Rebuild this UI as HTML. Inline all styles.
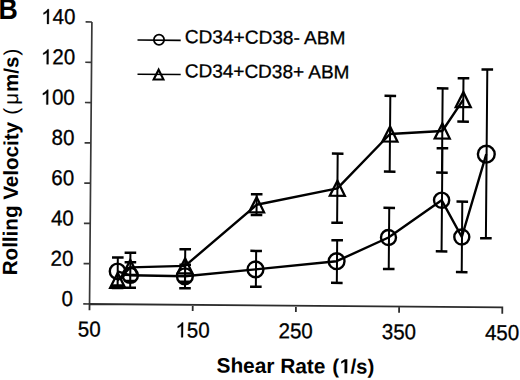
<!DOCTYPE html>
<html><head><meta charset="utf-8"><style>
html,body{margin:0;padding:0;background:#fff;width:520px;height:380px;overflow:hidden}
svg{display:block}
</style></head><body><svg width="520" height="380" viewBox="0 0 520 380"><g transform="rotate(0.48 300.0 190.0)"><path d="M118.39 259.02V287.02M131.02 263.62V289.22M185.83 265.66V289.26M256.67 251.27V287.17M337.60 239.99V282.59M389.39 207.15V268.25M442.08 147.01V250.21M462.39 200.24V270.74M486.29 67.94V236.64M118.46 277.52V289.52M130.95 254.22V282.42M185.74 250.26V282.66M256.73 194.66V215.36M337.38 153.29V222.39M389.53 95.15V170.85M441.80 87.21V171.41M462.54 76.94V120.23" stroke="#000" stroke-width="2.0" fill="none"/><path d="M112.59 259.02H124.19M112.59 287.02H124.19M125.22 263.62H136.82M125.22 289.22H136.82M180.03 265.66H191.63M180.03 289.26H191.63M250.87 251.27H262.47M250.87 287.17H262.47M331.80 239.99H343.40M331.80 282.59H343.40M383.59 207.15H395.19M383.59 268.25H395.19M436.28 147.01H447.88M436.28 250.21H447.88M456.59 200.24H468.19M456.59 270.74H468.19M480.49 67.94H492.09M480.49 236.64H492.09M112.66 289.52H124.26M125.15 254.22H136.75M125.15 282.42H136.75M179.94 250.26H191.54M179.94 282.66H191.54M250.93 194.66H262.53M250.93 215.36H262.53M331.58 153.29H343.18M331.58 222.39H343.18M383.73 95.15H395.33M383.73 170.85H395.33M436.00 87.21H447.60M436.00 171.41H447.60M456.74 76.94H468.34M456.74 120.23H468.34" stroke="#000" stroke-width="2.5" fill="none"/><polyline points="118.19,272.83 131.02,276.72 185.63,277.26 256.17,269.77 337.20,260.89 388.89,236.76 441.68,199.01 462.19,235.64 485.99,152.64" fill="none" stroke="#000" stroke-width="2.4" stroke-linejoin="round"/><polyline points="118.46,281.92 130.95,268.82 185.74,266.86 256.73,205.16 337.38,187.99 389.53,133.25 441.80,129.81 462.54,98.24" fill="none" stroke="#000" stroke-width="2.4" stroke-linejoin="round"/><circle cx="118.19" cy="272.83" r="7.7" fill="none" stroke="#000" stroke-width="2.4"/><circle cx="131.02" cy="276.72" r="7.6" fill="none" stroke="#000" stroke-width="2.4"/><circle cx="185.63" cy="277.26" r="7.9" fill="none" stroke="#000" stroke-width="2.4"/><circle cx="256.17" cy="269.77" r="7.9" fill="none" stroke="#000" stroke-width="2.4"/><circle cx="337.20" cy="260.89" r="7.9" fill="none" stroke="#000" stroke-width="2.4"/><circle cx="388.89" cy="236.76" r="7.5" fill="none" stroke="#000" stroke-width="2.4"/><circle cx="441.68" cy="199.01" r="7.6" fill="none" stroke="#000" stroke-width="2.4"/><circle cx="462.19" cy="235.64" r="7.5" fill="none" stroke="#000" stroke-width="2.4"/><circle cx="485.99" cy="152.64" r="8.4" fill="none" stroke="#000" stroke-width="2.4"/><polygon points="118.46,274.42 125.96,289.42 110.96,289.42" fill="none" stroke="#000" stroke-width="2.3"/><polygon points="130.95,261.32 138.45,276.32 123.45,276.32" fill="none" stroke="#000" stroke-width="2.3"/><polygon points="185.74,259.36 193.24,274.36 178.24,274.36" fill="none" stroke="#000" stroke-width="2.3"/><polygon points="256.73,197.66 264.23,212.66 249.23,212.66" fill="none" stroke="#000" stroke-width="2.3"/><polygon points="337.38,180.49 344.88,195.49 329.88,195.49" fill="none" stroke="#000" stroke-width="2.3"/><polygon points="389.53,125.75 397.03,140.75 382.03,140.75" fill="none" stroke="#000" stroke-width="2.3"/><polygon points="441.80,122.31 449.30,137.31 434.30,137.31" fill="none" stroke="#000" stroke-width="2.3"/><polygon points="462.54,90.74 470.04,105.74 455.04,105.74" fill="none" stroke="#000" stroke-width="2.3"/><path d="M90.5 23.75V305.75M84.2 23.75H90.5M84.2 64.04H90.5M84.2 104.32H90.5M84.2 144.61H90.5M84.2 184.89H90.5M84.2 225.18H90.5M84.2 265.46H90.5M84.2 305.75H90.5" stroke="#383838" stroke-width="1.7" fill="none"/><path d="M89.7 305.75H503.3V311.95M90.50 305.75V311.95M193.70 305.75V311.95M296.90 305.75V311.95M400.10 305.75V311.95" stroke="#2c2c2c" stroke-width="1.8" fill="none"/><g font-family="Liberation Sans" fill="#000" stroke="#000" stroke-width="0.3" font-size="20.5"><text transform="translate(62.60 308.05) scale(1 1.05)">0</text><text transform="translate(51.20 267.76) scale(1 1.05)">2</text><text transform="translate(62.60 267.76) scale(1 1.05)">0</text><text transform="translate(51.20 227.48) scale(1 1.05)">4</text><text transform="translate(62.60 227.48) scale(1 1.05)">0</text><text transform="translate(51.20 187.19) scale(1 1.05)">6</text><text transform="translate(62.60 187.19) scale(1 1.05)">0</text><text transform="translate(51.20 146.91) scale(1 1.05)">8</text><text transform="translate(62.60 146.91) scale(1 1.05)">0</text><path transform="translate(39.80 106.62) scale(0.01001 -0.01051)" d="M763 0L583 0L583 1102Q518 1043 415.5 985Q313 927 229 897L229 1064Q380 1132 487 1224Q594 1317 646 1409L763 1409Z" stroke-width="30.0"/><text transform="translate(51.20 106.62) scale(1 1.05)">0</text><text transform="translate(62.60 106.62) scale(1 1.05)">0</text><path transform="translate(39.80 66.34) scale(0.01001 -0.01051)" d="M763 0L583 0L583 1102Q518 1043 415.5 985Q313 927 229 897L229 1064Q380 1132 487 1224Q594 1317 646 1409L763 1409Z" stroke-width="30.0"/><text transform="translate(51.20 66.34) scale(1 1.05)">2</text><text transform="translate(62.60 66.34) scale(1 1.05)">0</text><path transform="translate(39.80 26.05) scale(0.01001 -0.01051)" d="M763 0L583 0L583 1102Q518 1043 415.5 985Q313 927 229 897L229 1064Q380 1132 487 1224Q594 1317 646 1409L763 1409Z" stroke-width="30.0"/><text transform="translate(51.20 26.05) scale(1 1.05)">4</text><text transform="translate(62.60 26.05) scale(1 1.05)">0</text><text transform="translate(79.10 338.35) scale(1 1.05)">5</text><text transform="translate(90.50 338.35) scale(1 1.05)">0</text><path transform="translate(176.60 338.35) scale(0.01001 -0.01051)" d="M763 0L583 0L583 1102Q518 1043 415.5 985Q313 927 229 897L229 1064Q380 1132 487 1224Q594 1317 646 1409L763 1409Z" stroke-width="30.0"/><text transform="translate(188.00 338.35) scale(1 1.05)">5</text><text transform="translate(199.40 338.35) scale(1 1.05)">0</text><text transform="translate(279.80 338.35) scale(1 1.05)">2</text><text transform="translate(291.20 338.35) scale(1 1.05)">5</text><text transform="translate(302.60 338.35) scale(1 1.05)">0</text><text transform="translate(383.00 338.35) scale(1 1.05)">3</text><text transform="translate(394.40 338.35) scale(1 1.05)">5</text><text transform="translate(405.80 338.35) scale(1 1.05)">0</text><text transform="translate(486.20 338.35) scale(1 1.05)">4</text><text transform="translate(497.60 338.35) scale(1 1.05)">5</text><text transform="translate(509.00 338.35) scale(1 1.05)">0</text></g><path d="M136.25 41.37H179.45M136.54 75.57H179.73" stroke="#000" stroke-width="1.6" fill="none"/><circle cx="157.75" cy="40.89" r="5.1" stroke="#000" stroke-width="1.8" fill="none"/><polygon points="157.64,70.89 162.54,80.69 152.74,80.69" stroke="#000" stroke-width="2.1" fill="none"/><g font-family="Liberation Sans" fill="#000" stroke="#000" stroke-width="0.3" font-size="18.8"><text x="183.57" y="44.07" textLength="160.6" lengthAdjust="spacingAndGlyphs">CD34+CD38- ABM</text><text x="183.86" y="78.17" textLength="164.6" lengthAdjust="spacingAndGlyphs">CD34+CD38+ ABM</text></g><text x="218.03" y="373.19" font-family="Liberation Sans" fill="#000" font-weight="bold" font-size="20.85">Shear Rate</text><text x="333.83" y="372.92" font-family="Liberation Sans" fill="#000" font-weight="bold" font-size="20.4">(</text><path transform="translate(340.63 372.92) scale(0.00996 -0.00996)" d="M538 0L538 1170L200 959L200 1180L553 1409L819 1409L819 0Z" fill="#000"/><text x="351.97" y="372.92" font-family="Liberation Sans" fill="#000" font-weight="bold" font-size="20.4">/s)</text><text transform="translate(17.82 277.67) rotate(-90)" font-family="Liberation Sans" fill="#000" font-weight="bold" font-size="20.6">Rolling Velocity</text><text transform="translate(17.31 117.07) rotate(-90)" font-family="Liberation Sans" fill="#000" font-size="20.4">(</text><text transform="translate(17.28 107.17) rotate(-90)" font-family="Liberation Sans" fill="#000" font-size="20.4">μ</text><text transform="translate(17.24 94.27) rotate(-90)" font-family="Liberation Sans" fill="#000" font-weight="bold" font-size="20.4">m/s</text><text transform="translate(17.13 57.97) rotate(-90)" font-family="Liberation Sans" fill="#000" font-size="20.4">)</text></g><text transform="translate(-1.4 19.3) scale(0.94 1.07)" font-family="Liberation Sans" fill="#000" font-weight="bold" font-size="28.4">B</text></svg></body></html>
